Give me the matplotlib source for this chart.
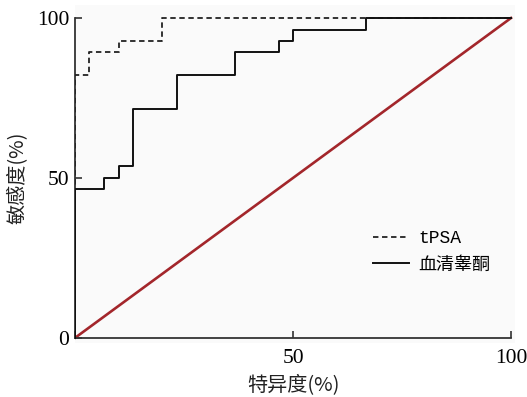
import matplotlib
matplotlib.use("Agg")
import matplotlib.pyplot as plt
import numpy as np

# Data (ROC step curves, %)
tpsa_x = [0, 0, 3.3, 3.3, 10.0, 10.0, 20.0, 20.0, 100]
tpsa_y = [0, 82.1, 82.1, 89.3, 89.3, 92.9, 92.9, 100, 100]
testo_x = [0, 0, 6.7, 6.7, 10.0, 10.0, 13.3, 13.3, 23.3, 23.3, 36.7, 36.7,
           46.7, 46.7, 50.0, 50.0, 66.7, 66.7, 100]
testo_y = [0, 46.4, 46.4, 50.0, 50.0, 53.6, 53.6, 71.4, 71.4, 82.1, 82.1, 89.3,
           89.3, 92.9, 92.9, 96.4, 96.4, 100, 100]
ref_x = [0, 100]
ref_y = [0, 100]
ticks = [0, 50, 100]
x_ticklabels = ["", "50", "100"]
y_ticklabels = ["0", "50", "100"]
labels = ["tPSA", "血清睾酮"]
xlabel = "特异度(%)"
ylabel = "敏感度(%)"

cjk = ["Noto Sans CJK SC", "DejaVu Sans"]
serif = "Liberation Serif"

fig = plt.figure(figsize=(5.27, 3.97), dpi=100)
ax = fig.add_axes([75/527, (397-343)/397, 440.4/527, (343-5.2)/397])
ax.set_facecolor("#fafafa")

ax.plot(ref_x, ref_y, color="#a3262b", lw=1.9, zorder=2)
l1, = ax.plot(tpsa_x, tpsa_y, color="#222222", lw=1.3, ls=(0, (3, 2)), zorder=3)
l2, = ax.plot(testo_x, testo_y, color="#111111", lw=1.4, zorder=3)

ax.set_xlim(0, 101)
ax.set_ylim(-1.6, 104)
for s in ["top", "right"]:
    ax.spines[s].set_visible(False)
ax.spines["bottom"].set_position(("data", 0))
ax.spines["bottom"].set_bounds(0, 100)
ax.spines["left"].set_bounds(0, 100)
for s in ["bottom", "left"]:
    ax.spines[s].set_color("#333333")
    ax.spines[s].set_linewidth(1.3)

ax.set_xticks(ticks)
ax.set_xticklabels(x_ticklabels, fontfamily=serif, fontsize=15.5)
ax.set_yticks(ticks)
ax.set_yticklabels(y_ticklabels, fontfamily=serif, fontsize=15.5)
ax.tick_params(axis="x", direction="in", length=5, width=1.2, color="#333333", pad=8)
ax.tick_params(axis="y", direction="in", length=5, width=1.2, color="#333333", pad=4)

fig.text(293/527, 1 - 385/397, xlabel, ha="center", va="center",
         fontsize=14.5, family=cjk, color="#222222")
fig.text(17/527, 1 - 178/397, ylabel, ha="center", va="center", rotation=90,
         fontsize=14.5, family=cjk, color="#222222")

leg = ax.legend([l1, l2], labels, loc="upper left",
                bbox_to_anchor=((357-75)/440.4, (343-214)/337.8),
                frameon=False, handlelength=2.0, handletextpad=0.5,
                labelspacing=0.45, prop={"family": cjk, "size": 13})
leg.get_texts()[0].set_fontfamily("Liberation Mono")

fig.savefig("out.png", dpi=100)
